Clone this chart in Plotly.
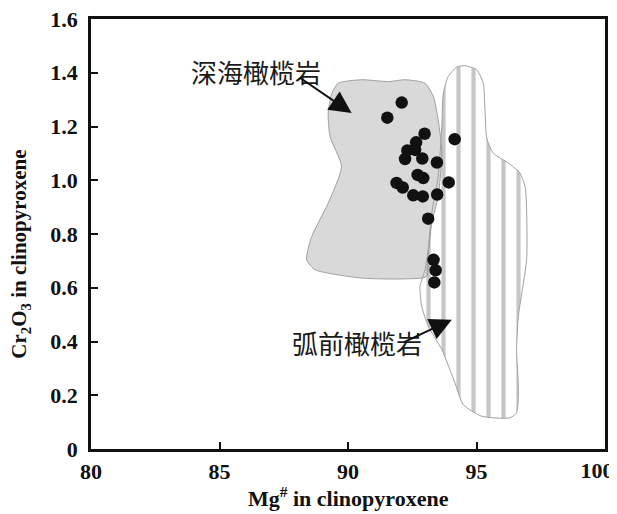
import plotly.graph_objects as go

# Sample data: Mg# vs Cr2O3 in clinopyroxene
mg_num = [92.09, 91.53, 92.98, 94.15, 92.65, 92.31, 92.61, 92.22, 92.89, 93.46,
          92.71, 92.93, 91.89, 92.13, 93.92, 92.54, 92.91, 93.47, 93.12, 93.33,
          93.41, 93.36]
cr2o3 = [1.289, 1.233, 1.173, 1.153, 1.141, 1.111, 1.113, 1.079, 1.081, 1.066,
         1.020, 1.008, 0.990, 0.973, 0.992, 0.944, 0.940, 0.947, 0.857, 0.704,
         0.665, 0.620]

# Abyssal peridotite field outline
abyssal_x = [89.62, 90.53, 91.57, 92.22, 93.00, 93.32, 93.51, 93.65, 93.51, 93.26,
             93.12, 93.06, 92.22, 90.53, 88.72, 88.39, 88.59, 89.23, 89.75, 89.30,
             89.23, 89.37, 89.62]
abyssal_y = [1.361, 1.374, 1.367, 1.374, 1.361, 1.312, 1.225, 1.101, 0.940, 0.841,
             0.717, 0.642, 0.633, 0.636, 0.667, 0.704, 0.791, 0.915, 1.051, 1.163,
             1.250, 1.324, 1.361]

# Forearc peridotite field outline
forearc_x = [94.55, 95.01, 95.26, 95.33, 95.40, 95.65, 96.24, 96.69, 96.89, 96.95,
             96.95, 96.63, 96.56, 96.63, 96.56, 96.30, 95.20, 94.49, 94.16, 93.65,
             93.12, 92.87, 92.80, 93.00, 93.12, 93.26, 93.51, 93.65, 93.71, 93.90,
             94.23, 94.55]
forearc_y = [1.426, 1.411, 1.361, 1.262, 1.157, 1.101, 1.064, 1.027, 0.977, 0.890,
             0.705, 0.494, 0.370, 0.221, 0.135, 0.116, 0.122, 0.165, 0.246, 0.370,
             0.457, 0.531, 0.605, 0.667, 0.742, 0.878, 1.014, 1.200, 1.324, 1.386,
             1.421, 1.426]

x_ticks = [80, 85, 90, 95]
x_ticktext = ["80", "85", "90", "95"]
x_end_tick = [100]
x_end_ticktext = ["100"]
y_ticks = [0, 0.2, 0.4, 0.6, 0.8, 1.0, 1.2, 1.4, 1.6]
y_ticktext = ["0", "0.2", "0.4", "0.6", "0.8", "1.0", "1.2", "1.4", "1.6"]

field_labels = ["深海橄榄岩", "弧前橄榄岩"]
label_pos = [(86.42, 1.403), (90.34, 0.395)]
arrow_tail = [(88.06, 1.386), (92.14, 0.396)]
arrow_head = [(90.14, 1.250), (94.04, 0.481)]

fig = go.Figure()

fig.add_trace(go.Scatter(
    x=abyssal_x, y=abyssal_y, mode="lines", fill="toself",
    fillcolor="#d9d9d9", line=dict(color="#a0a0a0", width=1, shape="spline", smoothing=0.6),
    hoverinfo="skip", showlegend=False))

fig.add_trace(go.Scatter(
    x=forearc_x, y=forearc_y, mode="lines", fill="toself",
    fillcolor="rgba(255,255,255,0)",
    fillpattern=dict(shape="|", size=15, solidity=0.28, fgcolor="#8e8e8e",
                     bgcolor="rgba(255,255,255,0)"),
    line=dict(color="#a0a0a0", width=1, shape="spline", smoothing=0.6),
    hoverinfo="skip", showlegend=False))

fig.add_trace(go.Scatter(
    x=mg_num, y=cr2o3, mode="markers",
    marker=dict(color="#111111", size=12.5, line=dict(width=0)),
    showlegend=False))

# empty trace so the overlaid axis carrying the end label is drawn
fig.add_trace(go.Scatter(x=[], y=[], xaxis="x2", yaxis="y", mode="markers",
                         showlegend=False, hoverinfo="skip"))

tick_font = dict(family="Liberation Serif", size=22, color="#111111", weight="bold")

fig.update_layout(
    xaxis=dict(range=[80, 100], tickvals=x_ticks, ticktext=x_ticktext,
               ticks="inside", ticklen=7, tickwidth=2, tickcolor="#111111",
               showline=True, linewidth=2.5, linecolor="#111111", mirror=True,
               showgrid=False, zeroline=False, tickfont=tick_font,
               ticklabelstandoff=1, automargin=False, ticklabeloverflow="allow"),
    xaxis2=dict(range=[80, 100], overlaying="x", side="bottom", anchor="y",
                tickvals=x_end_tick, ticktext=x_end_ticktext,
                ticks="inside", ticklen=7, tickwidth=2, tickcolor="#111111",
                showline=False, showgrid=False, zeroline=False, tickfont=tick_font,
                ticklabelstandoff=6, ticklabelshift=-8, automargin=False,
                ticklabeloverflow="allow"),
    yaxis=dict(range=[0, 1.6], tickvals=y_ticks, ticktext=y_ticktext,
               ticks="inside", ticklen=7, tickwidth=2, tickcolor="#111111",
               showline=True, linewidth=2.5, linecolor="#111111", mirror=True,
               showgrid=False, zeroline=False, tickfont=tick_font,
               ticklabelstandoff=6, automargin=False, ticklabeloverflow="allow"),
)

annotations = []
for txt, (lx, ly) in zip(field_labels, label_pos):
    annotations.append(dict(x=lx, y=ly, xref="x", yref="y", text=txt, showarrow=False,
                            font=dict(family="Noto Sans CJK SC", size=26, color="#1a1a1a")))
for (tx, ty), (hx, hy) in zip(arrow_tail, arrow_head):
    annotations.append(dict(x=hx, y=hy, xref="x", yref="y", ax=tx, ay=ty,
                            axref="x", ayref="y", text="", showarrow=True,
                            arrowhead=2, arrowsize=2.2, arrowwidth=2,
                            arrowcolor="#111111", standoff=0))
annotations.append(dict(x=0.5, y=0, xref="paper", yref="paper", yshift=-48,
                        yanchor="middle", xanchor="center", showarrow=False,
                        text="<b>Mg<sup>#</sup> in clinopyroxene</b>",
                        font=dict(family="Liberation Serif", size=22, color="#111111")))
annotations.append(dict(x=0, y=0.452, xref="paper", yref="paper", xshift=-71,
                        xanchor="center", yanchor="middle", textangle=-90, showarrow=False,
                        text="<b>Cr<sub>2</sub>O<sub>3</sub> in clinopyroxene</b>",
                        font=dict(family="Liberation Serif", size=21, color="#111111")))

# page body has an 8px default margin; the figure is sized to fit the window
fig.update_layout(
    width=609, height=506,
    margin=dict(l=83, r=12, t=11, b=64.5),
    paper_bgcolor="white", plot_bgcolor="white",
    font=dict(family="Liberation Serif", color="#111111"),
    annotations=annotations)

fig.write_html("out.html")
